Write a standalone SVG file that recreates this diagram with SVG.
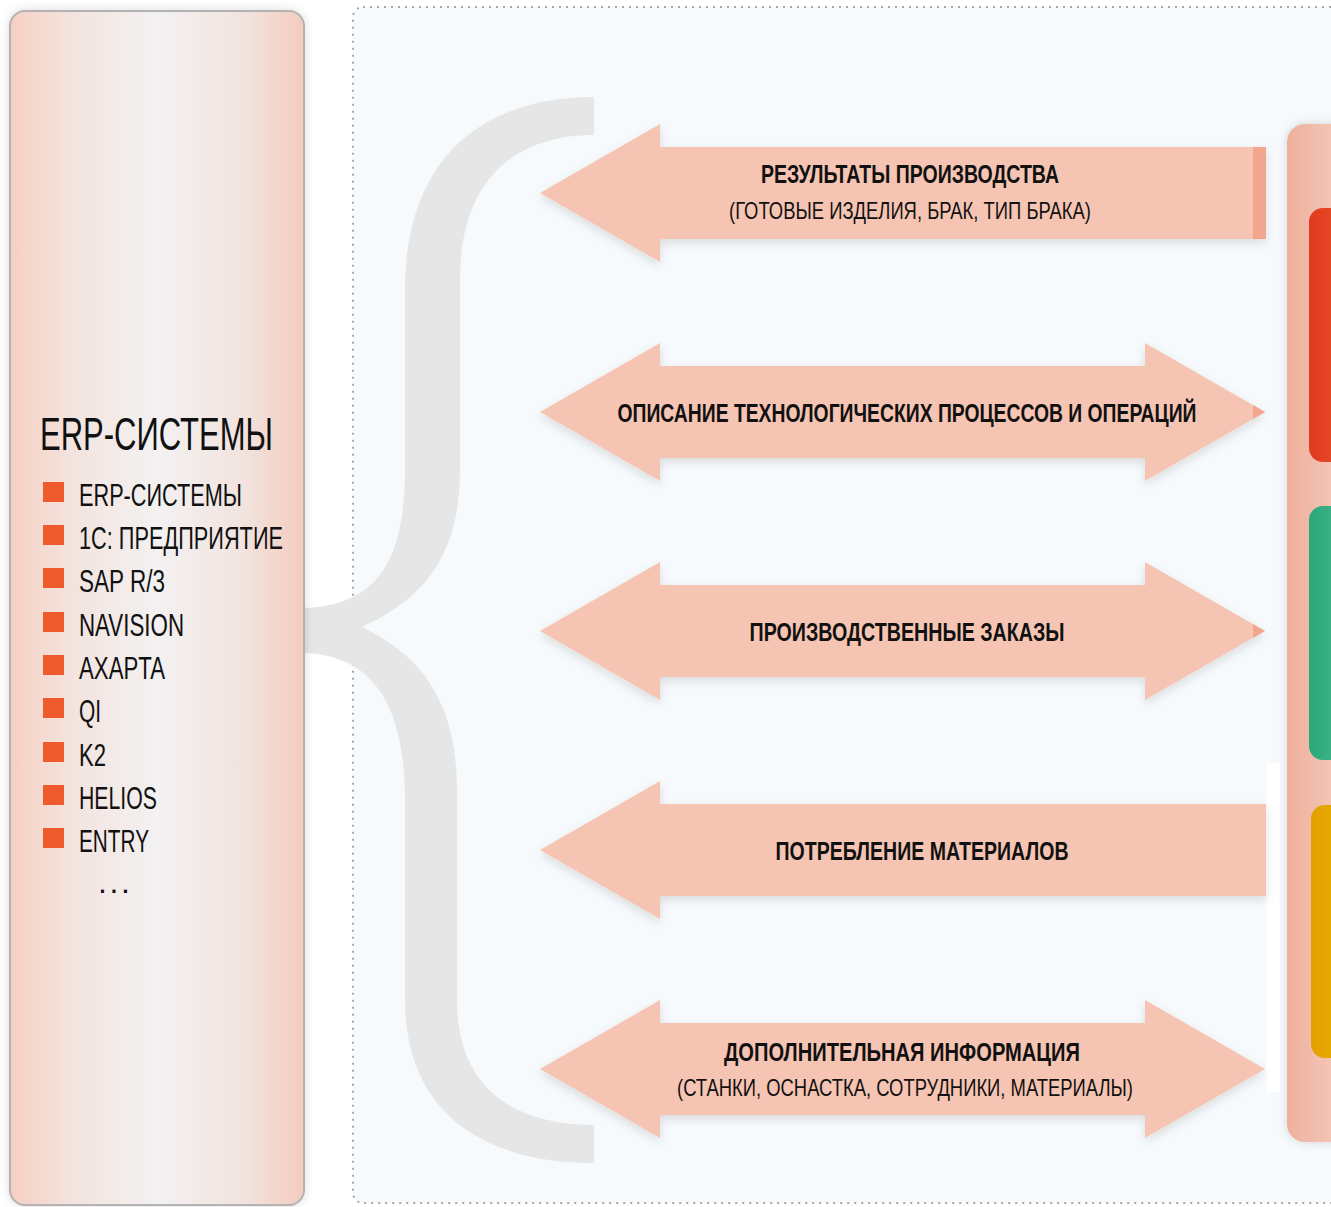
<svg xmlns="http://www.w3.org/2000/svg" width="1331" height="1207" viewBox="0 0 1331 1207">
<defs>
<linearGradient id="lp" x1="0" y1="0" x2="1" y2="0">
<stop offset="0" stop-color="#f6cfc1"/>
<stop offset="0.2" stop-color="#f3e3de"/>
<stop offset="0.5" stop-color="#f3f1f1"/>
<stop offset="0.8" stop-color="#f2e3de"/>
<stop offset="1" stop-color="#f5cbbd"/>
</linearGradient>
<linearGradient id="rp" x1="0" y1="0" x2="1" y2="0">
<stop offset="0" stop-color="#efb09c"/>
<stop offset="1" stop-color="#f7d4c8"/>
</linearGradient>
<linearGradient id="red" x1="0" y1="0" x2="1" y2="0">
<stop offset="0" stop-color="#e03a1f"/>
<stop offset="1" stop-color="#eb5a2e"/>
</linearGradient>
<linearGradient id="green" x1="0" y1="0" x2="1" y2="0">
<stop offset="0" stop-color="#2aa87c"/>
<stop offset="1" stop-color="#58bb96"/>
</linearGradient>
<linearGradient id="yellow" x1="0" y1="0" x2="1" y2="0">
<stop offset="0" stop-color="#e3a000"/>
<stop offset="1" stop-color="#e8b800"/>
</linearGradient>
<filter id="sh" x="-10%" y="-10%" width="120%" height="130%">
<feDropShadow dx="0" dy="4" stdDeviation="5" flood-color="#000" flood-opacity="0.12"/>
</filter>
<filter id="sh2" x="-10%" y="-5%" width="120%" height="110%">
<feDropShadow dx="0" dy="0" stdDeviation="5" flood-color="#000" flood-opacity="0.15"/>
</filter>
<style>
.arrow{fill:#f6c4b2;filter:url(#sh);}
.dark{fill:#f2a68e;}
.bt{font-family:"Liberation Sans Narrow","Liberation Sans",sans-serif;font-weight:bold;font-size:25px;fill:#111;text-anchor:middle;}
.nt{font-family:"Liberation Sans Narrow","Liberation Sans",sans-serif;font-size:24px;fill:#111;text-anchor:middle;}
.li{font-family:"Liberation Sans Narrow","Liberation Sans",sans-serif;font-size:32px;fill:#111;}
.sq{fill:#ee5a2b;}
</style>
</defs>

<rect x="0" y="0" width="1331" height="1207" fill="#ffffff"/>

<g id="container">
<rect x="353" y="7" width="1000" height="1196" rx="10" fill="#f7fafc" stroke="#a8a8a8" stroke-width="2" stroke-dasharray="2,5"/>
</g>

<g id="brace">
<path d="M594,97 C480,97 405,160 405,290 L405,470 C405,570 370,605 305,608 L305,653 C370,656 405,700 405,800 L405,1000 C405,1110 480,1163 594,1163 L594,1125 C510,1125 457,1085 457,1000 L457,790 C457,700 420,655 362,627 C420,600 460,560 460,470 L460,280 C460,185 510,135 594,135 Z" fill="#e6e6e6"/>
</g>

<g id="erp-panel">
<rect x="10" y="11" width="294" height="1194" rx="15" fill="url(#lp)" stroke="#b3b3b3" stroke-width="2" filter="url(#sh2)"/>
<text class="li" x="40" y="450" font-size="46" textLength="233" lengthAdjust="spacingAndGlyphs" style="font-size:46px">ERP-СИСТЕМЫ</text>
<rect class="sq" x="43" y="482" width="21" height="20"/>
<text class="li" x="79" y="506" textLength="163" lengthAdjust="spacingAndGlyphs">ERP-СИСТЕМЫ</text>
<rect class="sq" x="43" y="525" width="21" height="20"/>
<text class="li" x="79" y="549" textLength="204" lengthAdjust="spacingAndGlyphs">1С: ПРЕДПРИЯТИЕ</text>
<rect class="sq" x="43" y="568" width="21" height="20"/>
<text class="li" x="79" y="592" textLength="86" lengthAdjust="spacingAndGlyphs">SAP R/3</text>
<rect class="sq" x="43" y="612" width="21" height="20"/>
<text class="li" x="79" y="636" textLength="105" lengthAdjust="spacingAndGlyphs">NAVISION</text>
<rect class="sq" x="43" y="655" width="21" height="20"/>
<text class="li" x="79" y="679" textLength="86" lengthAdjust="spacingAndGlyphs">AXAPTA</text>
<rect class="sq" x="43" y="698" width="21" height="20"/>
<text class="li" x="79" y="722" textLength="22" lengthAdjust="spacingAndGlyphs">QI</text>
<rect class="sq" x="43" y="742" width="21" height="20"/>
<text class="li" x="79" y="766" textLength="27" lengthAdjust="spacingAndGlyphs">K2</text>
<rect class="sq" x="43" y="785" width="21" height="20"/>
<text class="li" x="79" y="809" textLength="78" lengthAdjust="spacingAndGlyphs">HELIOS</text>
<rect class="sq" x="43" y="828" width="21" height="20"/>
<text class="li" x="79" y="852" textLength="70" lengthAdjust="spacingAndGlyphs">ENTRY</text>
<text class="li" x="98" y="893" textLength="32" lengthAdjust="spacing">...</text>
</g>

<g id="right-panel">
<rect x="1266" y="763" width="14" height="329" fill="#ffffff"/>
<rect x="1287" y="124" width="80" height="1018" rx="18" fill="url(#rp)" filter="url(#sh2)"/>
<rect x="1309" y="208" width="60" height="254" rx="14" fill="url(#red)"/>
<rect x="1309" y="506" width="60" height="254" rx="14" fill="url(#green)"/>
<rect x="1311" y="805" width="60" height="253" rx="14" fill="url(#yellow)"/>
</g>

<g id="connectors">
<g id="arrow-results">
<polygon class="arrow" points="540,193 660,124 660,147 1266,147 1266,239 660,239 660,262"/>
<rect class="dark" x="1253" y="147" width="13" height="92"/>
<text class="bt" x="910" y="183" textLength="298" lengthAdjust="spacingAndGlyphs">РЕЗУЛЬТАТЫ ПРОИЗВОДСТВА</text>
<text class="nt" x="910" y="219" textLength="362" lengthAdjust="spacingAndGlyphs">(ГОТОВЫЕ ИЗДЕЛИЯ, БРАК, ТИП БРАКА)</text>
</g>
<g id="arrow-processes">
<polygon class="arrow" points="540,412 660,343 660,366 1145,366 1145,343 1265,412 1145,481 1145,458 660,458 660,481"/>
<polygon class="dark" points="1253,405 1265,412 1253,419"/>
<text class="bt" x="907" y="422" textLength="579" lengthAdjust="spacingAndGlyphs">ОПИСАНИЕ ТЕХНОЛОГИЧЕСКИХ ПРОЦЕССОВ И ОПЕРАЦИЙ</text>
</g>
<g id="arrow-orders">
<polygon class="arrow" points="540,631 660,562 660,585 1145,585 1145,562 1265,631 1145,700 1145,677 660,677 660,700"/>
<polygon class="dark" points="1253,624 1265,631 1253,638"/>
<text class="bt" x="907" y="641" textLength="315" lengthAdjust="spacingAndGlyphs">ПРОИЗВОДСТВЕННЫЕ ЗАКАЗЫ</text>
</g>
<g id="arrow-materials">
<polygon class="arrow" points="540,850 660,781 660,804 1266,804 1266,896 660,896 660,919"/>
<text class="bt" x="922" y="860" textLength="293" lengthAdjust="spacingAndGlyphs">ПОТРЕБЛЕНИЕ МАТЕРИАЛОВ</text>
</g>
<g id="arrow-additional">
<polygon class="arrow" points="540,1069 660,1000 660,1023 1145,1023 1145,1000 1265,1069 1145,1138 1145,1115 660,1115 660,1138"/>
<text class="bt" x="902" y="1061" textLength="356" lengthAdjust="spacingAndGlyphs">ДОПОЛНИТЕЛЬНАЯ ИНФОРМАЦИЯ</text>
<text class="nt" x="905" y="1096" textLength="456" lengthAdjust="spacingAndGlyphs">(СТАНКИ, ОСНАСТКА, СОТРУДНИКИ, МАТЕРИАЛЫ)</text>
</g>
</g>
</svg>
